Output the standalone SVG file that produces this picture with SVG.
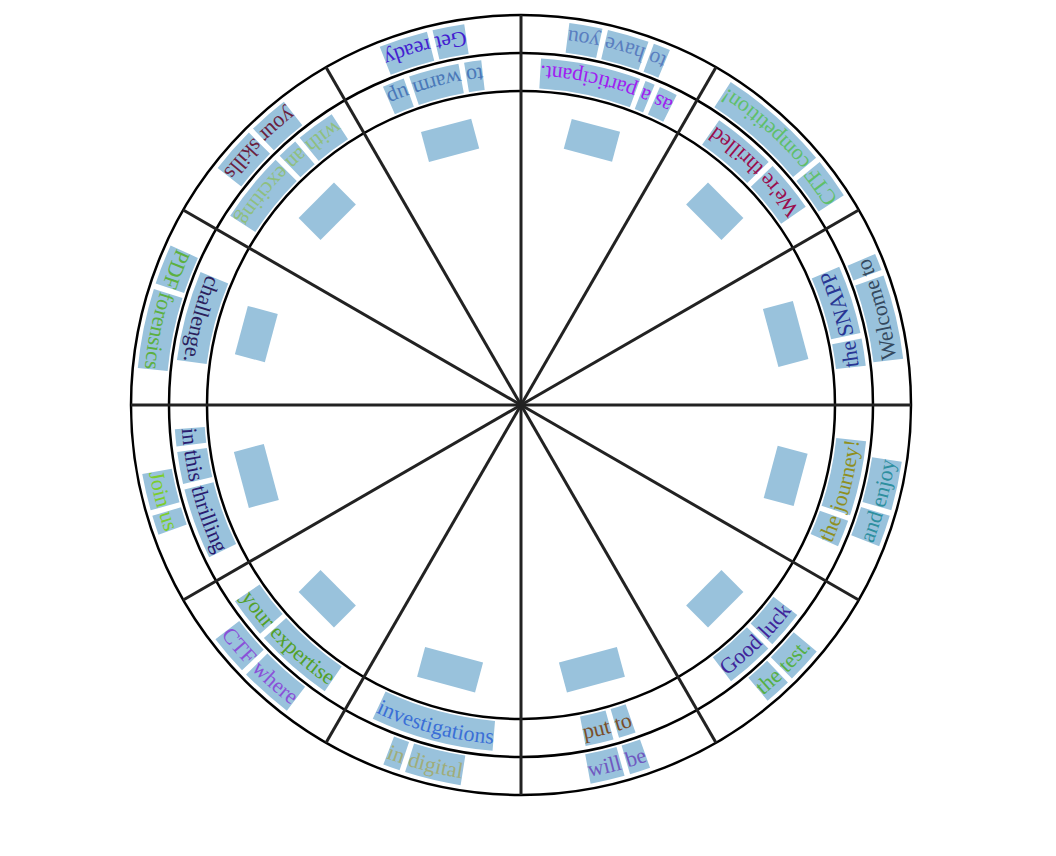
<svg xmlns="http://www.w3.org/2000/svg" width="1056" height="856" viewBox="0 0 1056 856">
<style>
text{font-family:"Liberation Serif","Times New Roman",serif;font-size:22px}
.bo{fill:none;stroke:#99c2dc;stroke-width:30}
.bm{fill:none;stroke:#99c2dc;stroke-width:30}
.in{fill:#99c2dc}
.ring{fill:none;stroke:#000;stroke-width:2.5}
.spoke{stroke:#222;stroke-width:3}
</style>
<defs>
<path id="po" d="M365.12,97.83 A378,378 0 0 0 365.12,-97.83"/>
<path id="pm" d="M328.41,88 A340,340 0 0 0 328.41,-88"/>
</defs>
<rect width="1056" height="856" fill="#fff"/>

<g id="sector-a" transform="translate(521,405) rotate(-15)">
<rect class="in" x="258.5" y="-30" width="31" height="60"/>
<circle class="bo" r="370" pathLength="360" stroke-dasharray="12.779 360" transform="rotate(-4.675)"/>
<circle class="bo" r="370" pathLength="360" stroke-dasharray="2.594 360" transform="rotate(-8.103)"/>
<circle class="bm" r="332" pathLength="360" stroke-dasharray="4.530 360" transform="rotate(3.967)"/>
<circle class="bm" r="332" pathLength="360" stroke-dasharray="11.537 360" transform="rotate(-8.497)"/>
<text fill="#34495e"><textPath href="#po" startOffset="50%" text-anchor="middle">Welcome to</textPath></text>
<text fill="#283593"><textPath href="#pm" startOffset="50%" text-anchor="middle">the SNAPP</textPath></text>
</g>

<g id="sector-b" transform="translate(521,405) rotate(-45)">
<rect class="in" x="258.5" y="-25" width="31" height="50"/>
<circle class="bo" r="370" pathLength="360" stroke-dasharray="6.116 360" transform="rotate(5.881)"/>
<circle class="bo" r="370" pathLength="360" stroke-dasharray="17.044 360" transform="rotate(-11.997)"/>
<circle class="bm" r="332" pathLength="360" stroke-dasharray="8.694 360" transform="rotate(1.472)"/>
<circle class="bm" r="332" pathLength="360" stroke-dasharray="10.711 360" transform="rotate(-10.166)"/>
<text fill="#5fbf6a"><textPath href="#po" startOffset="50%" text-anchor="middle">CTF competition!</textPath></text>
<text fill="#9b0d4d"><textPath href="#pm" startOffset="50%" text-anchor="middle">We're thrilled</textPath></text>
</g>

<g id="sector-c" transform="translate(521,405) rotate(-75)">
<rect class="in" x="258.5" y="-25" width="31" height="50"/>
<circle class="bo" r="370" pathLength="360" stroke-dasharray="2.594 360" transform="rotate(5.185)"/>
<circle class="bo" r="370" pathLength="360" stroke-dasharray="6.296 360" transform="rotate(-1.944)"/>
<circle class="bo" r="370" pathLength="360" stroke-dasharray="5.002 360" transform="rotate(-7.780)"/>
<circle class="bm" r="332" pathLength="360" stroke-dasharray="3.088 360" transform="rotate(8.597)"/>
<circle class="bm" r="332" pathLength="360" stroke-dasharray="1.646 360" transform="rotate(6.025)"/>
<circle class="bm" r="332" pathLength="360" stroke-dasharray="16.783 360" transform="rotate(-11.686)"/>
<text fill="#5a7ec0"><textPath href="#po" startOffset="50%" text-anchor="middle">to have you</textPath></text>
<text fill="#a020f0"><textPath href="#pm" startOffset="50%" text-anchor="middle">as a participant.</textPath></text>
</g>

<g id="sector-d" transform="translate(521,405) rotate(-105)">
<rect class="in" x="258.5" y="-26" width="31" height="52"/>
<circle class="bo" r="370" pathLength="360" stroke-dasharray="4.815 360" transform="rotate(1.712)"/>
<circle class="bo" r="370" pathLength="360" stroke-dasharray="7.406 360" transform="rotate(-6.528)"/>
<circle class="bm" r="332" pathLength="360" stroke-dasharray="2.884 360" transform="rotate(5.559)"/>
<circle class="bm" r="332" pathLength="360" stroke-dasharray="8.442 360" transform="rotate(-3.809)"/>
<circle class="bm" r="332" pathLength="360" stroke-dasharray="3.707 360" transform="rotate(-8.444)"/>
<text fill="#4320d0"><textPath href="#po" startOffset="50%" text-anchor="middle">Get ready</textPath></text>
<text fill="#4a78b8"><textPath href="#pm" startOffset="50%" text-anchor="middle">to warm up</textPath></text>
</g>

<g id="sector-e" transform="translate(521,405) rotate(-135)">
<rect class="in" x="258.5" y="-25" width="31" height="50"/>
<circle class="bo" r="370" pathLength="360" stroke-dasharray="6.112 360" transform="rotate(0.882)"/>
<circle class="bo" r="370" pathLength="360" stroke-dasharray="7.043 360" transform="rotate(-6.994)"/>
<circle class="bm" r="332" pathLength="360" stroke-dasharray="6.592 360" transform="rotate(5.354)"/>
<circle class="bm" r="332" pathLength="360" stroke-dasharray="3.500 360" transform="rotate(0.927)"/>
<circle class="bm" r="332" pathLength="360" stroke-dasharray="11.945 360" transform="rotate(-11.945)"/>
<text fill="#6b1f3f"><textPath href="#po" startOffset="50%" text-anchor="middle">your skills</textPath></text>
<text fill="#8fbf7f"><textPath href="#pm" startOffset="50%" text-anchor="middle">with an exciting</textPath></text>
</g>

<g id="sector-f" transform="translate(521,405) rotate(-165)">
<rect class="in" x="258.5" y="-25" width="31" height="50"/>
<circle class="bo" r="370" pathLength="360" stroke-dasharray="6.116 360" transform="rotate(3.378)"/>
<circle class="bo" r="370" pathLength="360" stroke-dasharray="12.038 360" transform="rotate(-9.494)"/>
<circle class="bm" r="332" pathLength="360" stroke-dasharray="15.134 360" transform="rotate(-7.567)"/>
<text fill="#5cb040"><textPath href="#po" startOffset="50%" text-anchor="middle">PDF forensics</textPath></text>
<text fill="#2b1f5c"><textPath href="#pm" startOffset="50%" text-anchor="middle">challenge.</textPath></text>
</g>

<g id="sector-g" transform="translate(521,405) rotate(165)">
<rect class="in" x="258.5" y="-29" width="31" height="58"/>
<circle class="bo" r="370" pathLength="360" stroke-dasharray="5.559 360" transform="rotate(-0.880)"/>
<circle class="bo" r="370" pathLength="360" stroke-dasharray="2.965 360" transform="rotate(-4.679)"/>
<circle class="bm" r="332" pathLength="360" stroke-dasharray="2.884 360" transform="rotate(8.138)"/>
<circle class="bm" r="332" pathLength="360" stroke-dasharray="5.357 360" transform="rotate(1.854)"/>
<circle class="bm" r="332" pathLength="360" stroke-dasharray="11.949 360" transform="rotate(-11.022)"/>
<text fill="#7ccd2c"><textPath href="#po" startOffset="50%" text-anchor="middle">Join us</textPath></text>
<text fill="#2a1c70"><textPath href="#pm" startOffset="50%" text-anchor="middle">in this thrilling</textPath></text>
</g>

<g id="sector-h" transform="translate(521,405) rotate(135)">
<rect class="in" x="258.5" y="-25" width="31" height="50"/>
<circle class="bo" r="370" pathLength="360" stroke-dasharray="6.116 360" transform="rotate(1.432)"/>
<circle class="bo" r="370" pathLength="360" stroke-dasharray="8.147 360" transform="rotate(-7.548)"/>
<circle class="bm" r="332" pathLength="360" stroke-dasharray="6.796 360" transform="rotate(3.757)"/>
<circle class="bm" r="332" pathLength="360" stroke-dasharray="13.384 360" transform="rotate(-10.553)"/>
<text fill="#8a50d8"><textPath href="#po" startOffset="50%" text-anchor="middle">CTF where</textPath></text>
<text fill="#52a028"><textPath href="#pm" startOffset="50%" text-anchor="middle">your expertise</textPath></text>
</g>

<g id="sector-i" transform="translate(521,405) rotate(105)">
<rect class="in" x="258.5" y="-30" width="31" height="60"/>
<circle class="bo" r="370" pathLength="360" stroke-dasharray="2.594 360" transform="rotate(3.381)"/>
<circle class="bo" r="370" pathLength="360" stroke-dasharray="8.524 360" transform="rotate(-5.976)"/>
<circle class="bm" r="332" pathLength="360" stroke-dasharray="20.598 360" transform="rotate(-10.299)"/>
<text fill="#a0ad7a"><textPath href="#po" startOffset="50%" text-anchor="middle">in digital</textPath></text>
<text fill="#3b6fd6"><textPath href="#pm" startOffset="50%" text-anchor="middle">investigations</textPath></text>
</g>

<g id="sector-j" transform="translate(521,405) rotate(75)">
<rect class="in" x="258.5" y="-30" width="31" height="60"/>
<circle class="bo" r="370" pathLength="360" stroke-dasharray="5.189 360" transform="rotate(-0.604)"/>
<circle class="bo" r="370" pathLength="360" stroke-dasharray="3.148 360" transform="rotate(-4.585)"/>
<circle class="bm" r="332" pathLength="360" stroke-dasharray="4.738 360" transform="rotate(-0.463)"/>
<circle class="bm" r="332" pathLength="360" stroke-dasharray="2.884 360" transform="rotate(-4.275)"/>
<text fill="#7058c0"><textPath href="#po" startOffset="50%" text-anchor="middle">will be</textPath></text>
<text fill="#7a4e28"><textPath href="#pm" startOffset="50%" text-anchor="middle">put to</textPath></text>
</g>

<g id="sector-k" transform="translate(521,405) rotate(45)">
<rect class="in" x="258.5" y="-25" width="31" height="50"/>
<circle class="bo" r="370" pathLength="360" stroke-dasharray="4.075 360" transform="rotate(1.112)"/>
<circle class="bo" r="370" pathLength="360" stroke-dasharray="5.466 360" transform="rotate(-5.187)"/>
<circle class="bm" r="332" pathLength="360" stroke-dasharray="8.238 360" transform="rotate(-0.463)"/>
<circle class="bm" r="332" pathLength="360" stroke-dasharray="6.384 360" transform="rotate(-7.775)"/>
<text fill="#55b045"><textPath href="#po" startOffset="50%" text-anchor="middle">the test.</textPath></text>
<text fill="#40259a"><textPath href="#pm" startOffset="50%" text-anchor="middle">Good luck</textPath></text>
</g>

<g id="sector-l" transform="translate(521,405) rotate(15)">
<rect class="in" x="258.5" y="-27" width="31" height="54"/>
<circle class="bo" r="370" pathLength="360" stroke-dasharray="4.815 360" transform="rotate(1.714)"/>
<circle class="bo" r="370" pathLength="360" stroke-dasharray="7.410 360" transform="rotate(-6.529)"/>
<circle class="bm" r="332" pathLength="360" stroke-dasharray="4.530 360" transform="rotate(4.479)"/>
<circle class="bm" r="332" pathLength="360" stroke-dasharray="12.561 360" transform="rotate(-9.009)"/>
<text fill="#2e8f9f"><textPath href="#po" startOffset="50%" text-anchor="middle">and enjoy</textPath></text>
<text fill="#8f8f20"><textPath href="#pm" startOffset="50%" text-anchor="middle">the journey!</textPath></text>
</g>

<g id="wheel" transform="translate(521,405)">
<circle class="ring" r="314"/>
<circle class="ring" r="352"/>
<circle class="ring" r="390"/>
<line class="spoke" x2="390"/>
<line class="spoke" x2="390" transform="rotate(30)"/>
<line class="spoke" x2="390" transform="rotate(60)"/>
<line class="spoke" x2="390" transform="rotate(90)"/>
<line class="spoke" x2="390" transform="rotate(120)"/>
<line class="spoke" x2="390" transform="rotate(150)"/>
<line class="spoke" x2="390" transform="rotate(180)"/>
<line class="spoke" x2="390" transform="rotate(210)"/>
<line class="spoke" x2="390" transform="rotate(240)"/>
<line class="spoke" x2="390" transform="rotate(270)"/>
<line class="spoke" x2="390" transform="rotate(300)"/>
<line class="spoke" x2="390" transform="rotate(330)"/>
</g>
</svg>
